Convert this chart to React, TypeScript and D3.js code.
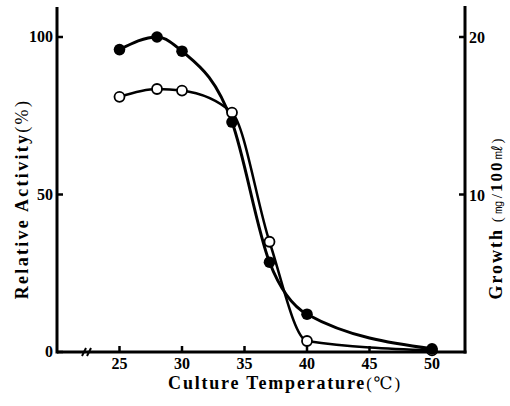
import React from 'react';
import * as d3 from 'd3';

// Culture temperature (°C)
const temps = [25, 28, 30, 34, 37, 40, 50];
// Relative activity (%), filled circles, left axis
const activity = [96, 100, 95.5, 73, 28.5, 12, 1];
// Growth (mg/100ml), open circles, right axis
const growth = [16.2, 16.7, 16.6, 15.2, 7.0, 0.7, 0.1];

const xTicks = [25, 30, 35, 40, 45, 50];
const yTicks = [0, 50, 100];
const y2Ticks = [10, 20];

const W = 510;
const H = 406;
const serif = '"Liberation Serif", "DejaVu Serif", serif';

export default function App() {
  const left = 57;
  const right = 465;
  const bottom = 352;
  const top = 7;

  const x = d3.scaleLinear().domain([20, 52.64]).range([left, right]);
  const y = d3.scaleLinear().domain([0, 100]).range([bottom, 37]);
  const y2 = d3.scaleLinear().domain([0, 20]).range([bottom, 37]);

  const actLine = d3
    .line<number>()
    .x((_, i) => x(temps[i]))
    .y((d) => y(d))
    .curve(d3.curveMonotoneX);

  const growLine = d3
    .line<number>()
    .x((_, i) => x(temps[i]))
    .y((d) => y2(d))
    .curve(d3.curveMonotoneX);

  const axisW = 3;

  return (
    <div style={{ position: 'absolute', left: 0, top: 0 }}>
      <svg width={W} height={H} viewBox={`0 0 ${W} ${H}`} style={{ display: 'block', background: '#fff' }}>
        {/* axes frame */}
        <line x1={left} y1={top} x2={left} y2={bottom + 1.5} stroke="#000" strokeWidth={axisW} />
        <line x1={right} y1={top - 1} x2={right} y2={bottom + 1.5} stroke="#000" strokeWidth={axisW} />
        <line x1={left} y1={bottom} x2={right + 1.5} y2={bottom} stroke="#000" strokeWidth={axisW} />

        {/* axis break */}
        <g stroke="#000" strokeWidth={2}>
          <line x1={82} y1={bottom + 4} x2={86} y2={bottom - 4} />
          <line x1={87} y1={bottom + 4} x2={91} y2={bottom - 4} />
        </g>

        {/* x ticks */}
        {xTicks.map((t) => (
          <g key={'x' + t}>
            <line x1={x(t)} y1={bottom} x2={x(t)} y2={bottom - 6} stroke="#000" strokeWidth={2.5} />
            <text
              x={x(t)}
              y={bottom + 17}
              textAnchor="middle"
              fontFamily={serif}
              fontWeight="bold"
              fontSize={16}
            >
              {t}
            </text>
          </g>
        ))}

        {/* left ticks */}
        {yTicks.map((t) => (
          <g key={'y' + t}>
            <line x1={left} y1={y(t)} x2={left + 6} y2={y(t)} stroke="#000" strokeWidth={2.5} />
            <text
              x={left - 4}
              y={y(t) + 5}
              textAnchor="end"
              fontFamily={serif}
              fontWeight="bold"
              fontSize={16}
            >
              {t}
            </text>
          </g>
        ))}

        {/* right ticks */}
        {y2Ticks.map((t) => (
          <g key={'y2' + t}>
            <line x1={right - 6} y1={y2(t)} x2={right} y2={y2(t)} stroke="#000" strokeWidth={2.5} />
            <text x={right + 4} y={y2(t) + 6} fontFamily={serif} fontWeight="bold" fontSize={16}>
              {t}
            </text>
          </g>
        ))}

        {/* curves */}
        <path d={growLine(growth) || ''} fill="none" stroke="#000" strokeWidth={2.5} />
        <path d={actLine(activity) || ''} fill="none" stroke="#000" strokeWidth={3} />

        {/* markers */}
        {growth.map((v, i) => (
          <circle key={'g' + i} cx={x(temps[i])} cy={y2(v)} r={5} fill="#fff" stroke="#000" strokeWidth={1.8} />
        ))}
        {activity.map((v, i) => (
          <circle key={'a' + i} cx={x(temps[i])} cy={y(v)} r={5.8} fill="#000" />
        ))}

        {/* axis titles */}
        <text
          x={285}
          y={389}
          textAnchor="middle"
          fontFamily={serif}
          fontWeight="bold"
          fontSize={18}
          letterSpacing={1.8}
        >
          Culture Temperature
          <tspan fontWeight="normal" fontSize={17}>(℃)</tspan>
        </text>
        <text
          transform="translate(28,199) rotate(-90)"
          textAnchor="middle"
          fontFamily={serif}
          fontWeight="bold"
          fontSize={18}
          letterSpacing={2.3}
        >
          Relative Activity
          <tspan fontWeight="normal" fontSize={18}>(%)</tspan>
        </text>
        <text
          transform="translate(502,218) rotate(-90)"
          textAnchor="middle"
          fontFamily={serif}
          fontWeight="bold"
          fontSize={18}
          letterSpacing={2}
        >
          Growth
          <tspan fontWeight="normal" fontSize={15}> (㎎/</tspan>
          <tspan fontSize={17}>100</tspan>
          <tspan fontWeight="normal" fontSize={15}>㎖)</tspan>
        </text>
      </svg>
    </div>
  );
}
